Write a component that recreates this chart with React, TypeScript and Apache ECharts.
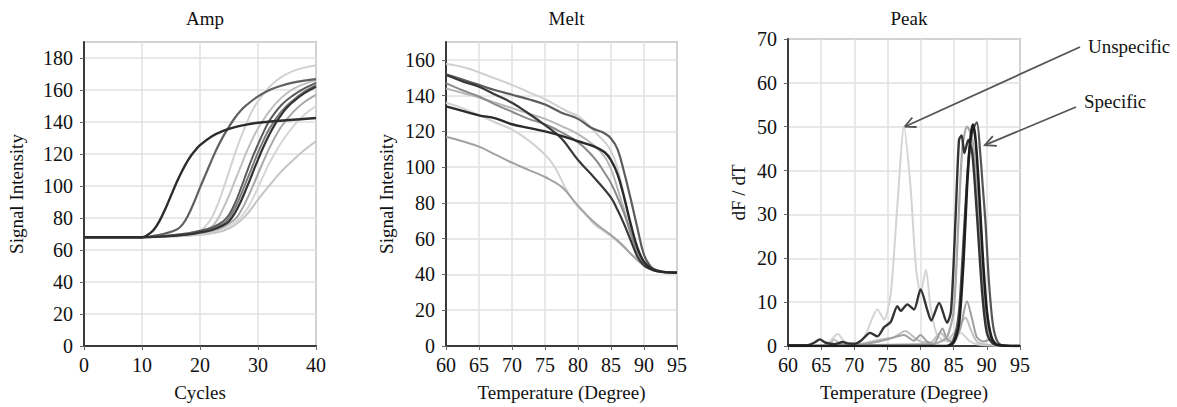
import React, { useEffect, useRef } from "react";
import * as echarts from "echarts";

// ---------- Amplification curves: [cycle, signal] ----------
const ampA = [[0,68],[10,68],[11,69.5],[12,72.5],[13,78],[14,85.5],[15,94],[16,102.5],[17,110],[18,116.5],[19,121.5],[20,125.5],[22,131],[24,134.5],[26,136.8],[28,138.4],[30,139.5],[33,140.6],[36,141.4],[40,142.5]];
const ampB = [[0,68],[10,68],[12,68.8],[14,70.3],[16,72.8],[17,76],[18,82],[19,90],[20,99],[21,107.5],[22,116],[23,124],[24,131],[25,137],[26,142.5],[27,147],[28,150.5],[30,156],[32,160],[34,162.7],[36,164.6],[38,165.9],[40,166.8]];
const ampC = [[0,68],[10,68],[14,69],[18,70.5],[20,72],[21,75],[22,80],[23,88],[24,98],[25,109],[26,120],[27,130],[28,139],[29,147],[30,153],[32,162],[34,168],[36,171.8],[38,174],[40,175.5]];
const ampD = [[0,68],[10,68],[14,69],[18,70],[20,71],[22,74.5],[23,79],[24,86],[25,94],[26,103],[27,112],[28,121],[29,129],[30,136],[32,147],[34,155],[36,160.5],[38,163.8],[40,166]];
const ampE = [[0,68],[10,68],[14,68.5],[18,69.8],[20,71],[22,72.5],[24,75.5],[25,78],[26,83],[27,90],[28,98.5],[29,107.5],[30,116.5],[31,125],[32,132.5],[33,139],[34,144.5],[35,149],[36,152.5],[38,158],[40,162]];
const ampF = [[0,68],[10,68],[14,68.8],[18,70.5],[20,72],[22,74],[24,78],[25,82],[26,89],[27,98],[28,108],[29,117.5],[30,126],[31,134],[32,141],[34,150.5],[36,156.5],[38,161],[40,164.5]];
const ampG = [[0,68],[10,68],[14,68.6],[18,70],[20,71.5],[22,73.5],[24,76.5],[25,80],[26,86],[27,94],[28,103],[29,112],[30,121],[31,129],[32,136],[34,146.5],[36,153.5],[38,159],[40,163]];
const ampH = [[0,68],[10,68],[16,69],[20,70.5],[22,72],[24,74.5],[26,79],[27,84],[28,91],[29,99],[30,107.5],[31,116],[32,124],[34,137],[36,146],[38,152.5],[40,157]];
const ampI = [[0,68],[10,68],[16,68.8],[20,70],[22,71.5],[24,73.5],[26,77],[28,85],[29,91.5],[30,99],[31,107],[32,114.5],[34,127],[36,137],[38,144.5],[40,150]];
const ampJ = [[0,68],[10,68],[16,68.5],[20,69.5],[22,70.5],[24,72],[26,75.5],[28,82],[30,91.5],[32,100.5],[34,109],[36,116],[38,122.5],[40,128]];

// ---------- Melt curves: [temperature, signal] ----------
const meltA = [[60,157.8],[62,156.5],[63.5,155],[65,153],[67.5,149.5],[70,146],[72.5,142],[75,138],[77,134],[78.5,131],[80,128.5],[81.5,124],[83,118],[84.5,112],[85.5,105],[86.5,92],[87.5,75],[88.5,60],[89.5,50],[90.5,45],[91.5,42.5],[93,41.3],[95,41]];
const meltB = [[60,152],[62.5,149],[65,146],[67.5,143],[70,140.5],[72.5,138],[75,135],[77.5,130.5],[80,127],[82,122],[84,119],[85,116],[86,110],[87,97],[88,82],[89,66],[90,51],[91,44.5],[92,42.3],[93,41.5],[95,41]];
const meltC = [[60,151.5],[62.5,148],[65,145],[67.5,140.5],[70,136],[72.5,130],[75,123.5],[77.5,116],[80,104],[82.5,94],[85,83],[86,76],[87,68],[88,59],[89,50],[90,45],[91,43],[92,41.8],[95,41]];
const meltD = [[60,134],[62.5,131.5],[65,129],[67.5,127.3],[70,124],[72.5,122],[75,120],[77.5,117.5],[80,114.5],[82.5,111.5],[84,108.5],[85,104],[86,96],[87,83],[88,68],[89,55],[90,47],[91,43.5],[92,42],[93,41.3],[95,41]];
const meltE = [[60,147],[62.5,143],[65,139.5],[67.5,135],[70,131],[72.5,127],[75,124],[77.5,119.5],[80,114],[82.5,105],[84,97],[85,91],[86,83],[87,74],[88,63],[89,53],[90,47],[91,43.5],[92,42],[95,41]];
const meltF = [[60,144],[62.5,141.5],[65,139],[67.5,136],[70,133],[72.5,130],[75,127],[77.5,123],[80,118.5],[82.5,112],[84,106],[85,99],[86,88],[87,76],[88,63],[89,52],[90,46],[91,43],[92,41.8],[95,41]];
const meltG = [[60,136],[62.5,133],[65,129],[67.5,125],[70,121],[72.5,115],[75,107],[76.5,100],[78,89],[79.5,80],[81,74],[82.5,68],[84,64],[85.5,60],[87,55],[88.5,50],[90,45.5],[91,43],[92,41.8],[95,41]];
const meltH = [[60,117],[62.5,114.5],[65,111.5],[67.5,107],[70,102.5],[72.5,98.5],[75,94.5],[77.5,89],[80,78.5],[82.5,69],[85,62],[86,59],[87,55.5],[88,51.5],[89,48],[90,45],[91,43],[92,41.7],[93,41.2],[95,41]];

// ---------- Melt peaks (dF/dT): [temperature, derivative] ----------
const peakA = [[60,0],[64,0],[66,0.5],[67.5,2.8],[68.5,1],[70,0.5],[71.5,2],[73.5,8.3],[74.5,6],[75.5,12],[76.5,32],[77.5,50],[78.5,36],[79.3,18],[80,12],[80.8,17.4],[81.5,9],[82.5,2.5],[84,1],[86,3],[87.5,1],[89,0.3],[95,0]];
const peakB = [[60,0.2],[63,0.2],[64,0.8],[64.8,1.5],[65.6,0.8],[67,0.4],[68.3,0.9],[69,0.6],[70,0.5],[71,1.2],[72.4,3],[73.5,2.2],[74.5,4.3],[75.5,5.5],[76.5,9.1],[77,8],[78,9.5],[79,8.3],[80,12.9],[81,8.3],[81.6,5.8],[82.8,9.8],[84,5.3],[84.6,8],[85.3,30],[85.8,47],[86.2,48],[86.6,44],[87.2,47],[87.8,44],[88.5,30],[89.3,12],[90,3],[91,0.5],[95,0]];
const peakC = [[60,0],[84,0],[85,0.8],[85.8,5],[86.5,20],[87,36],[87.5,47],[87.9,50.5],[88.3,47],[88.8,36],[89.4,20],[90,8],[90.7,2],[91.5,0.3],[95,0]];
const peakD = [[60,0],[84,0],[85,1.5],[85.8,8],[86.5,25],[87.2,42],[87.8,49],[88.5,51],[89,44],[89.4,36],[89.8,28],[90.3,15],[90.9,5],[91.6,1],[92.5,0],[95,0]];
const peakE = [[60,0],[82,0.5],[83,1],[84,2],[85,8],[85.7,28],[86.3,45],[87,50],[87.7,48],[88.4,38],[89.2,18],[90,5],[91,0.8],[92,0],[95,0]];
const peakF = [[60,0],[70,0.2],[73,0.8],[75,1.5],[77.5,2.5],[79,1.2],[80,2.5],[81,1],[82,0.5],[83.3,4],[84,1.5],[85,0.8],[86,4],[87,10.2],[87.8,6],[88.5,2],[89.5,1],[90.5,1.5],[91.5,0.3],[95,0]];
const peakG = [[60,0],[66,0],[67,1.5],[68,0.4],[70,0.3],[72,0.8],[74,1.5],[76,2],[77.7,3.4],[79,2],[80,1],[81.5,0.8],[83,3],[84,1.5],[86,5],[86.8,6.5],[87.5,4],[88.5,1],[90,0.3],[95,0]];

// Panel titles, axis names and annotation labels
const panelTitles = ["Amp", "Melt", "Peak"];
const xNames = ["Cycles", "Temperature (Degree)", "Temperature (Degree)"];
const yNames = ["Signal Intensity", "Signal Intensity", "dF / dT"];
const unspecificTarget = [77.6, 50];
const specificTarget = [89.7, 45.8];

const FONT = "Liberation Serif";

type Curve = { data: number[][]; color: string; width: number };

const ampCurves: Curve[] = [
  { data: ampJ, color: "#c4c4c4", width: 2 },
  { data: ampI, color: "#d6d6d6", width: 2 },
  { data: ampC, color: "#d2d2d2", width: 2 },
  { data: ampD, color: "#c0c0c0", width: 2 },
  { data: ampH, color: "#a8a8a8", width: 2 },
  { data: ampG, color: "#7a7a7a", width: 2 },
  { data: ampF, color: "#5a5a5a", width: 2 },
  { data: ampB, color: "#606060", width: 2.2 },
  { data: ampE, color: "#333333", width: 2.2 },
  { data: ampA, color: "#2c2c2c", width: 2.4 },
];

const meltCurves: Curve[] = [
  { data: meltG, color: "#d2d2d2", width: 2 },
  { data: meltA, color: "#d0d0d0", width: 2 },
  { data: meltH, color: "#a2a2a2", width: 2 },
  { data: meltF, color: "#b8b8b8", width: 2 },
  { data: meltE, color: "#8a8a8a", width: 2 },
  { data: meltB, color: "#5c5c5c", width: 2.2 },
  { data: meltC, color: "#383838", width: 2.2 },
  { data: meltD, color: "#2a2a2a", width: 2.4 },
];

const peakCurves: Curve[] = [
  { data: peakA, color: "#d4d4d4", width: 2 },
  { data: peakG, color: "#c0c0c0", width: 2 },
  { data: peakF, color: "#a0a0a0", width: 2 },
  { data: peakE, color: "#a8a8a8", width: 2.2 },
  { data: peakD, color: "#555555", width: 2.2 },
  { data: peakB, color: "#333333", width: 2.4 },
  { data: peakC, color: "#1e1e1e", width: 2.6 },
];

const grids = [
  { left: 84, top: 42, width: 232, height: 306 },
  { left: 446, top: 42, width: 231, height: 306 },
  { left: 788, top: 39, width: 232, height: 308 },
];

const xRanges = [
  { min: 0, max: 40, interval: 10 },
  { min: 60, max: 95, interval: 5 },
  { min: 60, max: 95, interval: 5 },
];
const yRanges = [
  { min: 0, max: 190, interval: 20 },
  { min: 0, max: 170, interval: 20 },
  { min: 0, max: 70, interval: 10 },
];
const yNameGaps = [58, 50, 40];

export default function App() {
  const ref = useRef<HTMLDivElement>(null);

  useEffect(() => {
    if (!ref.current) return;
    const chart = echarts.init(ref.current, null, { renderer: "svg" });

    const series: any[] = [];
    [ampCurves, meltCurves, peakCurves].forEach((set, i) => {
      set.forEach((c) => {
        series.push({
          type: "line",
          xAxisIndex: i,
          yAxisIndex: i,
          data: c.data,
          smooth: i === 2 ? 0.25 : 0.4,
          symbol: "none",
          lineStyle: { color: c.color, width: c.width },
          silent: true,
        });
      });
    });

    const axisText = { color: "#111", fontFamily: FONT, fontSize: 20 };

    chart.setOption({
      animation: false,
      backgroundColor: "#fff",
      textStyle: { fontFamily: FONT },
      title: panelTitles.map((t, i) => ({
        text: t,
        left: grids[i].left + grids[i].width / 2,
        top: 4,
        textAlign: "center",
        textStyle: { fontFamily: FONT, fontSize: 19, fontWeight: "normal", color: "#111" },
      })),
      grid: grids.map((g) => ({
        ...g,
        show: true,
        borderColor: "#8c8c8c",
        borderWidth: 1.5,
        backgroundColor: "#fff",
      })),
      xAxis: xRanges.map((r, i) => ({
        type: "value",
        gridIndex: i,
        ...r,
        name: xNames[i],
        nameLocation: "middle",
        nameGap: 37,
        nameTextStyle: { fontFamily: FONT, fontSize: 19, color: "#111" },
        axisLine: { show: true, lineStyle: { color: "#3a3a3a", width: 2 } },
        axisTick: { show: true, length: 4, lineStyle: { color: "#666" } },
        axisLabel: { ...axisText, margin: 9 },
        splitLine: { show: true, lineStyle: { color: "#e0e0e0", width: 1.5 } },
      })),
      yAxis: yRanges.map((r, i) => ({
        type: "value",
        gridIndex: i,
        ...r,
        name: yNames[i],
        nameLocation: "middle",
        nameGap: yNameGaps[i],
        nameTextStyle: { fontFamily: FONT, fontSize: 19, color: "#111" },
        axisLine: { show: true, lineStyle: { color: "#3a3a3a", width: 2 } },
        axisTick: { show: true, length: 4, lineStyle: { color: "#666" } },
        axisLabel: { ...axisText, margin: 11, showMaxLabel: i === 2 },
        splitLine: { show: true, lineStyle: { color: "#e0e0e0", width: 1.5 } },
      })),
      series,
    });

    // Annotation arrows pointing at the unspecific and specific peaks
    const arrow = (from: number[], toData: number[]) => {
      const to = chart.convertToPixel({ gridIndex: 2 }, toData) as number[];
      const dx = from[0] - to[0];
      const dy = from[1] - to[1];
      const len = Math.hypot(dx, dy);
      const ux = dx / len;
      const uy = dy / len;
      const headLen = 12;
      const spread = 0.45;
      const cos = Math.cos(spread);
      const sin = Math.sin(spread);
      const h1 = [to[0] + headLen * (ux * cos - uy * sin), to[1] + headLen * (ux * sin + uy * cos)];
      const h2 = [to[0] + headLen * (ux * cos + uy * sin), to[1] + headLen * (-ux * sin + uy * cos)];
      const style = { stroke: "#555", lineWidth: 1.8, fill: null };
      return [
        { type: "line", shape: { x1: from[0], y1: from[1], x2: to[0], y2: to[1] }, style },
        { type: "polyline", shape: { points: [h1, to, h2] }, style },
      ];
    };

    chart.setOption({
      graphic: [
        ...arrow([1080, 47], unspecificTarget),
        ...arrow([1076, 107], specificTarget),
        {
          type: "text",
          left: 1088,
          top: 37,
          style: { text: "Unspecific", fontFamily: FONT, fontSize: 19, fill: "#111" },
        },
        {
          type: "text",
          left: 1084,
          top: 92,
          style: { text: "Specific", fontFamily: FONT, fontSize: 19, fill: "#111" },
        },
      ],
    });

    return () => chart.dispose();
  }, []);

  return (
    <div
      ref={ref}
      style={{ position: "absolute", left: 0, top: 0, width: 1177, height: 407, background: "#fff" }}
    />
  );
}
